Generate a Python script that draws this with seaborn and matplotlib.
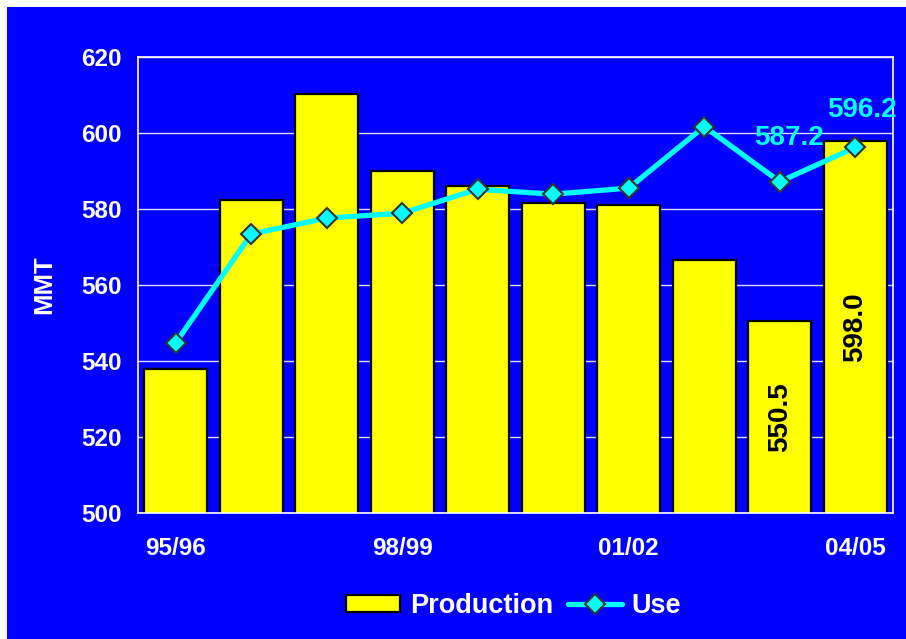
import numpy as np
import pandas as pd
import matplotlib
matplotlib.use("Agg")
import matplotlib.pyplot as plt
from matplotlib.patches import Rectangle, Patch
from matplotlib.lines import Line2D
import seaborn as sns

# Marketing years and world production / use, million metric tons
seasons = ["95/96", "96/97", "97/98", "98/99", "99/00",
           "00/01", "01/02", "02/03", "03/04", "04/05"]
production = [538.0, 582.4, 610.3, 590.0, 586.0, 581.6, 581.0, 566.7, 550.5, 598.0]
use = [544.8, 573.4, 577.6, 578.9, 585.2, 583.9, 585.5, 601.7, 587.2, 596.2]
shown_ticks = ["95/96", "98/99", "01/02", "04/05"]

BLUE = "#0000FF"
YELLOW = "#FFFF00"
CYAN = "#00FFFF"

sns.set_style("white")
plt.rcParams["font.family"] = ["Liberation Sans", "DejaVu Sans"]
plt.rcParams["font.weight"] = "bold"

fig = plt.figure(figsize=(9.06, 6.39), dpi=100)
fig.patch.set_facecolor("white")
# blue backdrop, leaving a thin white strip on the top and left
fig.add_artist(Rectangle((7 / 906, 0), 1, (639 - 7) / 639,
                         transform=fig.transFigure, facecolor=BLUE,
                         edgecolor="none", zorder=-10))

ax = fig.add_axes([138 / 906, (639 - 513) / 639, (893 - 138) / 906, (513 - 57) / 639])
ax.set_facecolor(BLUE)

df = pd.DataFrame({"season": seasons, "production": production, "use": use})

sns.barplot(data=df, x="season", y="production", order=seasons,
            color=YELLOW, saturation=1, width=0.835,
            edgecolor="black", linewidth=1.6, ax=ax, zorder=2)

x_idx = np.arange(len(seasons))
sns.lineplot(x=x_idx, y=df["use"], ax=ax, color=CYAN, linewidth=3.8,
             marker="D", markersize=10, markerfacecolor=CYAN,
             markeredgecolor="#333333", markeredgewidth=1.5, zorder=4)

ax.set_xlim(-0.5, len(seasons) - 0.5)
ax.set_ylim(500, 620)
ax.set_yticks(np.arange(500, 621, 20))
ax.set_xticks(x_idx)
ax.set_xticklabels([s if s in shown_ticks else "" for s in seasons])
ax.tick_params(axis="both", colors="white", labelsize=17.5, length=4, width=1,
               direction="out")
ax.tick_params(axis="x", length=0, pad=17)
ax.tick_params(axis="y", pad=8)
for lbl in ax.get_xticklabels() + ax.get_yticklabels():
    lbl.set_fontweight("bold")
    lbl.set_color("white")

ax.yaxis.grid(True, color="#DDDDFF", linewidth=1.0, zorder=0)
ax.set_axisbelow(True)
for sp in ax.spines.values():
    sp.set_visible(True)
    sp.set_color("white")
    sp.set_linewidth(1.2)

ax.set_xlabel("")
ax.set_ylabel("MMT", color="white", fontsize=18.5, fontweight="bold", labelpad=18)

# value labels for the last two seasons
for i in (8, 9):
    v = production[i]
    ax.text(i, 500 + (v - 500) / 2, f"{v:.1f}", rotation=90, ha="center",
            va="center", color="black", fontsize=20, fontweight="bold", zorder=5)
for i, (dx, dy) in zip((8, 9), ((6.5, 31.5), (5, 27))):
    ax.annotate(f"{use[i]:.1f}", xy=(i, use[i]), xytext=(dx, dy),
                textcoords="offset points", ha="center", va="center",
                color=CYAN, fontsize=20, fontweight="bold", zorder=6,
                annotation_clip=False)

handles = [
    Patch(facecolor=YELLOW, edgecolor="black", linewidth=1.6, label="Production"),
    Line2D([0], [0], color=CYAN, linewidth=3.8, marker="D", markersize=10,
           markerfacecolor=CYAN, markeredgecolor="#333333", markeredgewidth=1.5,
           label="Use"),
]
leg = fig.legend(handles=handles, loc="center", bbox_to_anchor=(0.567, 0.052),
                 ncol=2, frameon=False, fontsize=19.5, handlelength=2.0,
                 handleheight=0.6, handletextpad=0.35, columnspacing=0.55)
for t in leg.get_texts():
    t.set_color("white")
    t.set_fontweight("bold")

fig.savefig("out.png", dpi=100, facecolor=fig.get_facecolor())
